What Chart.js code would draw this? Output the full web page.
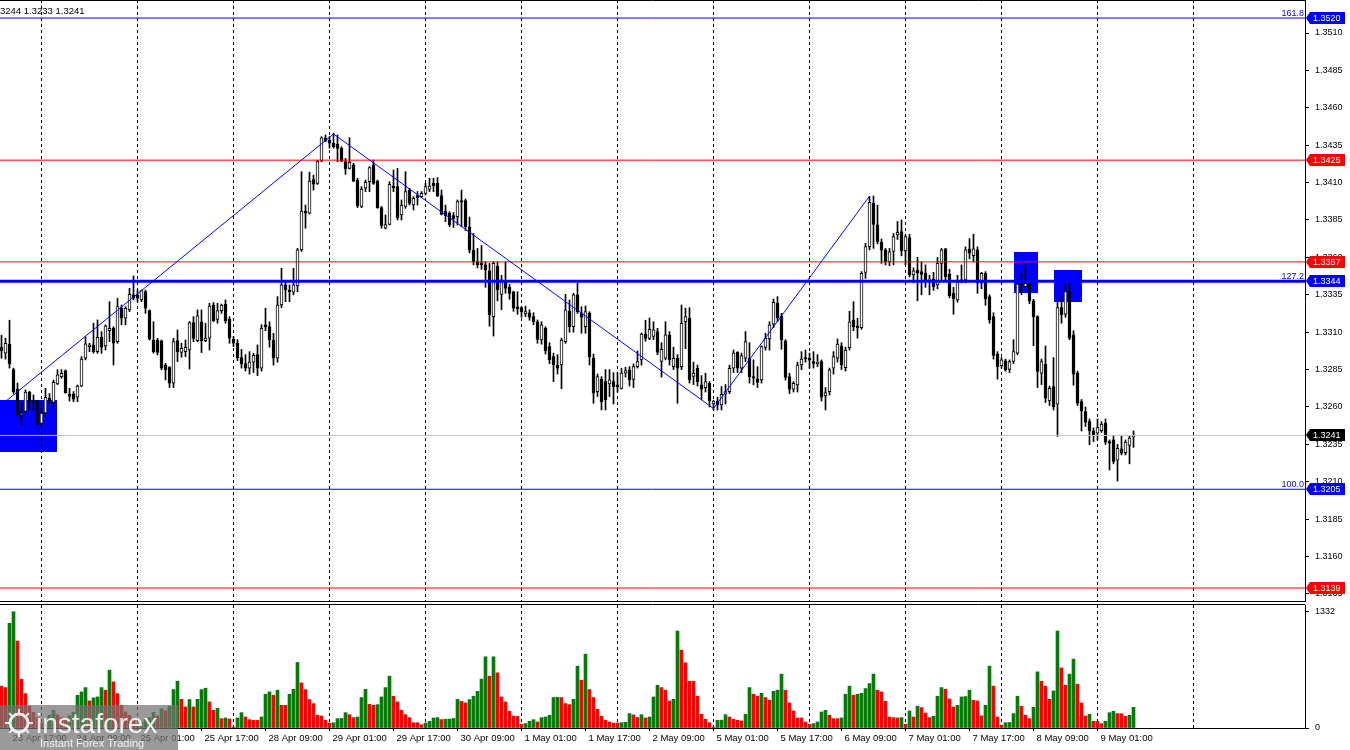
<!DOCTYPE html>
<html lang="en">
<head>
<meta charset="UTF-8">
<title>GBPUSD H1</title>
<style>
  body { margin: 0; padding: 0; background: #fff; }
  #wrap { position: relative; width: 1350px; height: 750px; overflow: hidden; background: #fff; }
  #priceChart { position: absolute; left: 0; top: 0; }
  #volChart { position: absolute; left: 0; top: 602px; }
</style>
<script src="https://cdn.jsdelivr.net/npm/chart.js"></script>
</head>
<body>
<div id="wrap">
  <canvas id="priceChart" width="1350" height="602"></canvas>
  <canvas id="volChart" width="1350" height="148"></canvas>
</div>
<script>
// hourly bars, index 0 = 23 Apr 15:00
const opens = [
  1.33000,1.32960,1.33020,1.32850,1.32720,1.32545,1.32570,1.32700,1.32640,1.32640,1.32490,1.32560,
  1.32660,1.32630,1.32755,1.32803,1.32843,1.32687,1.32687,1.32665,1.32740,1.32926,1.33004,1.33015,
  1.32970,1.33066,1.33008,1.33111,1.33126,1.33037,1.33260,1.33193,1.33249,1.33349,1.33349,1.33316,
  1.33371,1.33244,1.33048,1.33048,1.33042,1.32880,1.32866,1.32759,1.33044,1.32964,1.32970,1.32981,
  1.33164,1.33044,1.33170,1.33044,1.33060,1.33282,1.33186,1.33244,1.33288,1.33186,1.33053,1.33026,
  1.32930,1.32890,1.32860,1.32900,1.32950,1.32860,1.33149,1.33137,1.33048,1.32926,1.33282,1.33416,
  1.33382,1.33367,1.33410,1.33650,1.33910,1.33895,1.34120,1.34095,1.34244,1.34400,1.34385,1.34363,
  1.34356,1.34329,1.34240,1.34195,1.34218,1.34117,1.33940,1.34063,1.34106,1.34218,1.34110,1.33933,
  1.33795,1.33820,1.34077,1.34073,1.33884,1.33940,1.34050,1.33950,1.34013,1.34006,1.34028,1.34055,
  1.34095,1.34095,1.34013,1.33910,1.33895,1.33880,1.33873,1.33980,1.33979,1.33805,1.33649,1.33571,
  1.33565,1.33550,1.33511,1.33204,1.33540,1.33353,1.33438,1.33400,1.33370,1.33270,1.33264,1.33222,
  1.33230,1.33204,1.33170,1.33048,1.33126,1.33004,1.32937,1.32881,1.32881,1.33037,1.33242,1.33137,
  1.33349,1.33230,1.33137,1.33226,1.32926,1.32703,1.32785,1.32770,1.32754,1.32770,1.32748,1.32725,
  1.32826,1.32848,1.32785,1.32870,1.32915,1.33088,1.33059,1.33071,1.33104,1.32904,1.32926,1.33082,
  1.32870,1.32926,1.32870,1.33170,1.33193,1.32805,1.32859,1.32748,1.32730,1.32759,1.32620,1.32640,
  1.32614,1.32685,1.32703,1.32859,1.32966,1.32859,1.32926,1.32926,1.32803,1.32788,1.32781,1.32999,
  1.33055,1.33153,1.33293,1.33209,1.33042,1.32803,1.32720,1.32748,1.32881,1.32930,1.32926,1.32904,
  1.32890,1.32904,1.32674,1.32703,1.32859,1.32926,1.33008,1.32863,1.32997,1.33182,1.33142,1.33131,
  1.33500,1.33672,1.33962,1.33817,1.33701,1.33650,1.33572,1.33640,1.33750,1.33772,1.33643,1.33732,
  1.33483,1.33516,1.33505,1.33494,1.33447,1.33456,1.33416,1.33560,1.33657,1.33487,1.33360,1.33316,
  1.33440,1.33450,1.33657,1.33612,1.33650,1.33427,1.33494,1.33338,1.33204,1.32953,1.32877,1.32908,
  1.32852,1.32904,1.32959,1.33427,1.33405,1.33427,1.33309,1.33204,1.32826,1.32886,1.32641,1.32737,
  1.32619,1.33265,1.33220,1.33382,1.33082,1.32826,1.32637,1.32570,1.32503,1.32441,1.32425,1.32441,
  1.32492,1.32369,1.32380,1.32245,1.32320,1.32295,1.32343,1.32400
];
const highs = [
  1.33080,1.33060,1.33180,1.32860,1.32760,1.32625,1.32715,1.32705,1.32680,1.32645,1.32590,1.32725,
  1.32690,1.32780,1.32850,1.32850,1.32848,1.32725,1.32703,1.32747,1.32937,1.33070,1.33026,1.33160,
  1.33182,1.33104,1.33149,1.33304,1.33137,1.33327,1.33282,1.33271,1.33393,1.33476,1.33382,1.33382,
  1.33382,1.33249,1.33170,1.33059,1.33048,1.32892,1.32870,1.33059,1.33115,1.33026,1.33048,1.33171,
  1.33204,1.33249,1.33249,1.33160,1.33293,1.33298,1.33293,1.33288,1.33316,1.33204,1.33071,1.33050,
  1.32985,1.32950,1.32970,1.32960,1.33015,1.33150,1.33260,1.33170,1.33093,1.33338,1.33527,1.33438,
  1.33416,1.33527,1.33661,1.34173,1.33950,1.34170,1.34150,1.34250,1.34407,1.34418,1.34407,1.34430,
  1.34418,1.34340,1.34262,1.34400,1.34229,1.34129,1.34073,1.34117,1.34207,1.34251,1.34117,1.33940,
  1.33884,1.34106,1.34184,1.34195,1.33984,1.34173,1.34062,1.34006,1.34040,1.34040,1.34095,1.34129,
  1.34129,1.34133,1.34050,1.33950,1.33906,1.33900,1.33984,1.34050,1.33990,1.33870,1.33760,1.33660,
  1.33680,1.33570,1.33560,1.33570,1.33570,1.33480,1.33570,1.33420,1.33375,1.33370,1.33270,1.33275,
  1.33250,1.33230,1.33182,1.33170,1.33137,1.33030,1.32960,1.32950,1.33060,1.33353,1.33315,1.33360,
  1.33427,1.33270,1.33275,1.33237,1.32954,1.32820,1.32803,1.32850,1.32850,1.32830,1.32830,1.32859,
  1.32865,1.32870,1.32888,1.32975,1.33095,1.33180,1.33195,1.33170,1.33126,1.33030,1.33170,1.33104,
  1.33000,1.32950,1.33282,1.33260,1.33264,1.32900,1.32880,1.32810,1.32826,1.32770,1.32645,1.32665,
  1.32737,1.32750,1.32880,1.32981,1.32970,1.32960,1.33104,1.33030,1.32915,1.32870,1.33010,1.33093,
  1.33170,1.33322,1.33338,1.33226,1.33050,1.32826,1.32770,1.32900,1.32970,1.32981,1.32960,1.32970,
  1.32950,1.32915,1.32730,1.32860,1.32970,1.33055,1.33030,1.33000,1.33240,1.33304,1.33193,1.33505,
  1.33694,1.34006,1.34010,1.33950,1.33723,1.33660,1.33660,1.33760,1.33840,1.33850,1.33750,1.33755,
  1.33530,1.33600,1.33570,1.33550,1.33480,1.33500,1.33600,1.33660,1.33660,1.33520,1.33400,1.33480,
  1.33550,1.33670,1.33725,1.33755,1.33670,1.33500,1.33505,1.33350,1.33230,1.32970,1.32930,1.32920,
  1.32915,1.33050,1.33450,1.33494,1.33550,1.33450,1.33320,1.33210,1.32920,1.33008,1.32740,1.32930,
  1.33300,1.33340,1.33427,1.33427,1.33110,1.32840,1.32650,1.32600,1.32520,1.32460,1.32520,1.32503,
  1.32520,1.32380,1.32407,1.32350,1.32405,1.32380,1.32405,1.32440
];
const lows = [
  1.32926,1.32920,1.32860,1.32690,1.32540,1.32480,1.32560,1.32580,1.32580,1.32480,1.32480,1.32536,
  1.32630,1.32595,1.32750,1.32792,1.32692,1.32640,1.32636,1.32636,1.32736,1.32915,1.32970,1.32960,
  1.32959,1.32959,1.32981,1.33037,1.32881,1.33026,1.33149,1.33149,1.33238,1.33316,1.33304,1.33304,
  1.33226,1.33048,1.32960,1.32948,1.32848,1.32781,1.32730,1.32730,1.32904,1.32932,1.32937,1.32854,
  1.33037,1.33037,1.32964,1.33037,1.32981,1.33171,1.33160,1.33226,1.33160,1.33026,1.33004,1.32910,
  1.32860,1.32840,1.32820,1.32830,1.32810,1.32840,1.33110,1.33000,1.32880,1.32900,1.33264,1.33304,
  1.33304,1.33350,1.33371,1.33640,1.33795,1.33890,1.34050,1.34088,1.34240,1.34374,1.34330,1.34330,
  1.34240,1.34240,1.34155,1.34191,1.34106,1.33933,1.33933,1.34040,1.34040,1.34088,1.33928,1.33795,
  1.33790,1.33817,1.34040,1.33850,1.33850,1.33928,1.33950,1.33917,1.33950,1.34000,1.34017,1.34040,
  1.34040,1.34006,1.33884,1.33839,1.33806,1.33800,1.33817,1.33805,1.33780,1.33630,1.33550,1.33530,
  1.33520,1.33400,1.33140,1.33074,1.33310,1.33250,1.33360,1.33320,1.33240,1.33220,1.33200,1.33204,
  1.33180,1.33150,1.33026,1.33020,1.32954,1.32890,1.32770,1.32820,1.32723,1.33026,1.33100,1.33100,
  1.33226,1.33093,1.33093,1.32881,1.32625,1.32670,1.32580,1.32580,1.32670,1.32620,1.32700,1.32720,
  1.32800,1.32740,1.32730,1.32860,1.32880,1.33040,1.33050,1.33050,1.32950,1.32800,1.32915,1.32880,
  1.32850,1.32625,1.32850,1.32990,1.32760,1.32750,1.32740,1.32650,1.32700,1.32600,1.32580,1.32580,
  1.32580,1.32620,1.32690,1.32830,1.32830,1.32830,1.32904,1.32760,1.32748,1.32730,1.32760,1.32980,
  1.32980,1.33130,1.33170,1.32986,1.32780,1.32690,1.32700,1.32700,1.32850,1.32900,1.32860,1.32860,
  1.32870,1.32640,1.32580,1.32680,1.32820,1.32900,1.32850,1.32840,1.32980,1.33110,1.33060,1.33120,
  1.33460,1.33650,1.33660,1.33690,1.33560,1.33550,1.33545,1.33550,1.33720,1.33610,1.33550,1.33470,
  1.33430,1.33310,1.33350,1.33400,1.33350,1.33380,1.33390,1.33450,1.33450,1.33330,1.33220,1.33300,
  1.33430,1.33430,1.33590,1.33570,1.33360,1.33390,1.33280,1.33160,1.32920,1.32786,1.32860,1.32840,
  1.32830,1.32890,1.32950,1.33350,1.33400,1.33290,1.33010,1.32730,1.32750,1.32630,1.32610,1.32580,
  1.32403,1.33160,1.33200,1.33050,1.32746,1.32610,1.32440,1.32470,1.32348,1.32369,1.32380,1.32430,
  1.32350,1.32179,1.32220,1.32105,1.32280,1.32280,1.32220,1.32330
];
const closes = [
  1.32977,1.33025,1.32890,1.32700,1.32540,1.32560,1.32700,1.32640,1.32630,1.32480,1.32560,1.32665,
  1.32640,1.32765,1.32815,1.32825,1.32696,1.32670,1.32652,1.32740,1.32920,1.33022,1.33015,1.32970,
  1.33066,1.33000,1.33142,1.33126,1.33026,1.33271,1.33193,1.33260,1.33353,1.33327,1.33327,1.33378,
  1.33260,1.33053,1.32970,1.32964,1.32859,1.32848,1.32759,1.33037,1.32970,1.32993,1.32999,1.33164,
  1.33059,1.33209,1.33044,1.33060,1.33275,1.33177,1.33244,1.33282,1.33177,1.33060,1.33026,1.32930,
  1.32890,1.32860,1.32900,1.32945,1.32860,1.33126,1.33137,1.33048,1.32926,1.33282,1.33416,1.33382,
  1.33371,1.33416,1.33650,1.33910,1.33895,1.34110,1.34090,1.34240,1.34400,1.34378,1.34363,1.34340,
  1.34329,1.34244,1.34191,1.34235,1.34110,1.33946,1.34057,1.34102,1.34200,1.34095,1.33933,1.33812,
  1.33820,1.34088,1.34066,1.33866,1.33950,1.34040,1.33960,1.33995,1.34000,1.34028,1.34073,1.34077,
  1.34077,1.34013,1.33888,1.33879,1.33817,1.33857,1.33973,1.33970,1.33805,1.33649,1.33571,1.33550,
  1.33550,1.33516,1.33215,1.33560,1.33382,1.33450,1.33393,1.33360,1.33260,1.33255,1.33237,1.33237,
  1.33200,1.33170,1.33052,1.33149,1.32977,1.32915,1.32881,1.32859,1.33048,1.33249,1.33137,1.33349,
  1.33237,1.33200,1.33237,1.32937,1.32692,1.32803,1.32636,1.32647,1.32781,1.32736,1.32736,1.32826,
  1.32843,1.32781,1.32870,1.32904,1.33088,1.33059,1.33120,1.33115,1.32964,1.32986,1.33082,1.32915,
  1.32926,1.32859,1.33159,1.33204,1.32781,1.32826,1.32770,1.32720,1.32770,1.32640,1.32640,1.32614,
  1.32685,1.32703,1.32859,1.32960,1.32859,1.32943,1.33037,1.32803,1.32792,1.32765,1.33004,1.33059,
  1.33149,1.33300,1.33193,1.33048,1.32797,1.32720,1.32759,1.32881,1.32920,1.32922,1.32913,1.32892,
  1.32900,1.32665,1.32696,1.32848,1.32937,1.33020,1.32881,1.32981,1.33170,1.33137,1.33131,1.33494,
  1.33672,1.33968,1.33821,1.33705,1.33649,1.33572,1.33638,1.33739,1.33768,1.33643,1.33739,1.33483,
  1.33510,1.33494,1.33487,1.33450,1.33455,1.33405,1.33560,1.33650,1.33472,1.33345,1.33322,1.33434,
  1.33450,1.33650,1.33628,1.33657,1.33427,1.33494,1.33322,1.33182,1.32944,1.32870,1.32915,1.32848,
  1.32904,1.32970,1.33422,1.33416,1.33427,1.33309,1.33204,1.32837,1.32904,1.32659,1.32725,1.32603,
  1.33265,1.33215,1.33372,1.33060,1.32820,1.32625,1.32574,1.32499,1.32441,1.32414,1.32463,1.32485,
  1.32365,1.32358,1.32236,1.32323,1.32291,1.32365,1.32392,1.32410
];
const volumes = [
  479,463,1199,1332,996,559,394,250,180,120,60,107,
  146,203,150,120,100,140,180,375,414,463,310,345,
  356,463,433,663,529,394,260,184,146,88,50,70,
  100,120,180,140,220,200,250,440,536,329,241,326,
  241,329,440,456,299,203,226,107,115,103,11,115,
  176,126,96,88,88,126,387,414,375,433,260,260,
  387,444,751,517,440,326,280,146,138,88,57,60,
  107,110,176,153,119,126,349,444,272,260,268,356,
  463,594,364,299,203,153,119,61,61,38,57,77,
  115,119,96,100,102,110,329,306,287,326,364,420,
  560,816,594,816,632,356,299,192,138,134,42,50,
  77,96,69,119,126,146,349,352,349,280,268,329,
  709,548,846,440,349,214,134,88,69,57,57,61,
  65,165,150,120,153,115,126,356,490,463,433,310,
  329,1111,892,747,536,536,364,157,100,61,11,88,
  90,153,126,100,88,80,157,463,387,364,398,349,
  318,421,433,617,433,287,195,115,115,69,42,50,
  69,184,203,146,107,107,115,387,479,375,387,398,
  452,509,617,433,414,306,126,119,115,119,42,195,
  126,249,234,172,119,134,364,463,444,333,241,260,
  356,360,433,318,310,140,260,709,479,126,31,61,
  63,164,364,249,146,107,237,643,536,479,329,425,
  1111,689,490,617,789,502,287,138,157,77,77,50,
  77,176,192,165,164,134,146,237
];

const timeLabels = ['23 Apr 17:00','24 Apr 09:00','25 Apr 01:00','25 Apr 17:00','28 Apr 09:00','29 Apr 01:00',
  '29 Apr 17:00','30 Apr 09:00','1 May 01:00','1 May 17:00','2 May 09:00','5 May 01:00',
  '5 May 17:00','6 May 09:00','7 May 01:00','7 May 17:00','8 May 09:00','9 May 01:00'];
const labelBars = [2,18,34,50,66,82,98,114,130,146,162,178,194,210,226,242,258,274];
const daySeparators = [10,34,58,82,106,130,154,178,202,226,250,274,298];
const priceTicks = [1.3135,1.3160,1.3185,1.3210,1.3235,1.3260,1.3285,1.3310,1.3335,1.3360,1.3385,1.3410,1.3435,1.3460,1.3485,1.3510];
const volTicks = [0,1332];

const levelValues = [1.3520, 1.3425, 1.3357, 1.3344, 1.3241, 1.3205, 1.3139];
const levelLineColors = ['#0000ff','#ff0000','#ff0000','#0000ff','#c0c0c0','#0000ff','#ff0000'];
const levelLineWidths = [1, 1, 1, 3, 1, 1, 1];
const levelTagColors = ['#0000ff','#ff0000','#ff0000','#0000ff','#000000','#0000ff','#ff0000'];
const fiboValues = [1.3520, 1.3344, 1.3205];
const fiboNames = ['161.8', '127.2', '100.0'];

const zigzagBars = [-0.375, 83, 178, 217];
const zigzagPrices = [1.32607, 1.34425, 1.32590, 1.34010];

const boxFrom = [-0.375, 253, 263];
const boxTo = [14, 259, 270];
const boxTop = [1.32647, 1.33636, 1.33516];
const boxBottom = [1.32299, 1.33362, 1.33302];

const headerText = '3244 1.3233 1.3241';

const X_MIN = -0.375, X_MAX = 325.875;
const PRICE_MIN = 1.312965, PRICE_MAX = 1.353206;
const VOL_MAX = 1409;
const FONT = 'Liberation Sans';

function drawSeparators(ctx, x, top, bottom) {
  ctx.strokeStyle = '#000';
  ctx.lineWidth = 1;
  ctx.setLineDash([3, 3]);
  daySeparators.forEach(i => {
    const px = Math.floor(x.getPixelForValue(i)) + 0.5;
    ctx.beginPath();
    ctx.moveTo(px, top);
    ctx.lineTo(px, bottom);
    ctx.stroke();
  });
  ctx.setLineDash([]);
}

const priceDecor = {
  id: 'priceDecor',
  beforeDatasetsDraw(chart) {
    const { ctx, chartArea: a, scales: { x, y } } = chart;
    ctx.save();
    ctx.fillStyle = '#0000ff';
    for (let k = 0; k < boxFrom.length; k++) {
      const x1 = Math.round(x.getPixelForValue(boxFrom[k]));
      const x2 = Math.round(x.getPixelForValue(boxTo[k]));
      const y1 = Math.round(y.getPixelForValue(boxTop[k]));
      const y2 = Math.round(y.getPixelForValue(boxBottom[k]));
      ctx.fillRect(x1, y1, x2 - x1, y2 - y1);
    }
    drawSeparators(ctx, x, a.top, a.bottom);
    ctx.restore();
  },
  afterDraw(chart) {
    const { ctx, chartArea: a, scales: { y } } = chart;
    ctx.save();
    // frame
    ctx.strokeStyle = '#000';
    ctx.lineWidth = 1;
    ctx.beginPath();
    ctx.moveTo(0, 0.5); ctx.lineTo(a.right, 0.5);
    ctx.moveTo(0, a.bottom - 0.5); ctx.lineTo(a.right, a.bottom - 0.5);
    ctx.stroke();
    // price tags on the right axis
    ctx.font = '9px "' + FONT + '"';
    ctx.textBaseline = 'middle';
    ctx.textAlign = 'left';
    levelValues.forEach((v, k) => {
      const py = Math.round(y.getPixelForValue(v));
      ctx.fillStyle = levelTagColors[k];
      ctx.beginPath();
      ctx.moveTo(a.right + 1, py);
      ctx.lineTo(a.right + 5, py - 6);
      ctx.lineTo(a.right + 40, py - 6);
      ctx.lineTo(a.right + 40, py + 6);
      ctx.lineTo(a.right + 5, py + 6);
      ctx.closePath();
      ctx.fill();
      ctx.fillStyle = '#fff';
      ctx.fillText(v.toFixed(4), a.right + 8, py + 0.5);
    });
    // fibo level names
    ctx.fillStyle = '#0000ff';
    ctx.textAlign = 'right';
    ctx.textBaseline = 'alphabetic';
    fiboValues.forEach((v, k) => {
      ctx.fillText(fiboNames[k], a.right - 1, y.getPixelForValue(v) - 2);
    });
    // header
    ctx.fillStyle = '#000';
    ctx.textAlign = 'left';
    ctx.font = '9.5px "' + FONT + '"';
    ctx.fillText(headerText, 0, 14);
    ctx.restore();
  }
};

const volDecor = {
  id: 'volDecor',
  beforeDatasetsDraw(chart) {
    const { ctx, chartArea: a, scales: { x } } = chart;
    ctx.save();
    drawSeparators(ctx, x, a.top, a.bottom);
    ctx.restore();
  },
  afterDraw(chart) {
    const { ctx, chartArea: a } = chart;
    ctx.save();
    ctx.strokeStyle = '#000';
    ctx.lineWidth = 1;
    ctx.beginPath();
    ctx.moveTo(0, 2.5); ctx.lineTo(a.right, 2.5);
    ctx.stroke();
    // watermark
    ctx.fillStyle = 'rgba(115,115,115,0.72)';
    ctx.fillRect(0, 103, 178, 45);
    ctx.strokeStyle = 'rgba(255,255,255,0.85)';
    ctx.lineWidth = 3;
    ctx.beginPath();
    ctx.arc(19, 121, 9, 0, Math.PI * 2);
    ctx.stroke();
    ctx.lineWidth = 2;
    for (let t = 0; t < 8; t++) {
      const ang = t * Math.PI / 4;
      ctx.beginPath();
      ctx.moveTo(19 + Math.cos(ang) * 10, 121 + Math.sin(ang) * 10);
      ctx.lineTo(19 + Math.cos(ang) * 14, 121 + Math.sin(ang) * 14);
      ctx.stroke();
    }
    ctx.fillStyle = 'rgba(255,255,255,0.88)';
    ctx.font = '28px "' + FONT + '"';
    ctx.textAlign = 'left';
    ctx.textBaseline = 'alphabetic';
    ctx.fillText('instaforex', 36, 131);
    ctx.font = '11px "' + FONT + '"';
    ctx.fillText('Instant Forex Trading', 40, 145);
    ctx.restore();
  }
};

const tickFont = { family: FONT, size: 9 };

new Chart(document.getElementById('priceChart'), {
  type: 'bar',
  data: {
    datasets: [
      {
        label: 'wicks',
        data: lows.map((l, i) => ({ x: i, y: [l, highs[i]] })),
        backgroundColor: '#000',
        barThickness: 1,
        grouped: false,
        order: 3
      },
      {
        label: 'bodies',
        data: opens.map((o, i) => ({ x: i, y: [o, closes[i]] })),
        backgroundColor: c => closes[c.dataIndex] >= opens[c.dataIndex] ? '#ffffff' : '#000000',
        borderColor: '#000',
        borderWidth: 1,
        borderSkipped: false,
        minBarLength: 1,
        barThickness: 3,
        grouped: false,
        order: 2
      },
      ...levelValues.map((v, k) => ({
        type: 'line',
        label: 'level ' + v,
        data: [{ x: X_MIN, y: v }, { x: X_MAX, y: v }],
        borderColor: levelLineColors[k],
        borderWidth: levelLineWidths[k],
        pointRadius: 0,
        order: 1
      })),
      {
        type: 'line',
        label: 'zigzag',
        data: zigzagBars.map((b, k) => ({ x: b, y: zigzagPrices[k] })),
        borderColor: '#0000ff',
        borderWidth: 1,
        pointRadius: 0,
        tension: 0,
        order: 0
      }
    ]
  },
  options: {
    responsive: false,
    animation: false,
    devicePixelRatio: 1,
    layout: { padding: 0 },
    plugins: { legend: { display: false }, tooltip: { enabled: false } },
    scales: {
      x: { type: 'linear', min: X_MIN, max: X_MAX, offset: false, display: false, grid: { offset: false } },
      y: {
        position: 'right',
        min: PRICE_MIN,
        max: PRICE_MAX,
        beginAtZero: false,
        afterFit(s) { s.width = 45; s.paddingTop = 0; s.paddingBottom = 0; },
        afterBuildTicks(s) { s.ticks = priceTicks.map(v => ({ value: v })); },
        ticks: { autoSkip: false, padding: 6, color: '#000', font: tickFont, callback: v => v.toFixed(4) },
        grid: { display: true, drawOnChartArea: false, drawTicks: true, tickLength: 4, color: '#000' },
        border: { display: true, color: '#000' }
      }
    }
  },
  plugins: [priceDecor]
});

new Chart(document.getElementById('volChart'), {
  type: 'bar',
  data: {
    datasets: [{
      label: 'Volumes',
      data: volumes.map((v, i) => ({ x: i, y: v })),
      backgroundColor: c => (c.dataIndex > 0 && volumes[c.dataIndex] > volumes[c.dataIndex - 1]) ? '#008000' : '#ff0000',
      borderWidth: 0,
      barThickness: 3
    }]
  },
  options: {
    responsive: false,
    animation: false,
    devicePixelRatio: 1,
    layout: { padding: { top: 3, left: 0, right: 0, bottom: 0 } },
    plugins: { legend: { display: false }, tooltip: { enabled: false } },
    scales: {
      x: {
        type: 'linear', min: X_MIN, max: X_MAX, offset: false,
        afterFit(s) { s.height = 22; s.paddingLeft = 0; s.paddingRight = 0; },
        afterBuildTicks(s) { s.ticks = labelBars.map(v => ({ value: v })); },
        ticks: {
          autoSkip: false, maxRotation: 0, minRotation: 0, align: 'start', labelOffset: 3, padding: 2,
          color: '#000', font: { family: FONT, size: 9.5 }, callback: (v, i) => timeLabels[i]
        },
        grid: { display: true, drawOnChartArea: false, drawTicks: true, tickLength: 3, color: '#000', offset: false },
        border: { display: true, color: '#000' }
      },
      y: {
        position: 'right', min: 0, max: VOL_MAX, beginAtZero: false,
        afterFit(s) { s.width = 45; s.paddingTop = 0; s.paddingBottom = 0; },
        afterBuildTicks(s) { s.ticks = volTicks.map(v => ({ value: v })); },
        ticks: { autoSkip: false, padding: 6, color: '#000', font: tickFont, callback: v => String(v) },
        grid: { display: true, drawOnChartArea: false, drawTicks: true, tickLength: 4, color: '#000' },
        border: { display: true, color: '#000' }
      }
    }
  },
  plugins: [volDecor]
});
</script>
</body>
</html>
